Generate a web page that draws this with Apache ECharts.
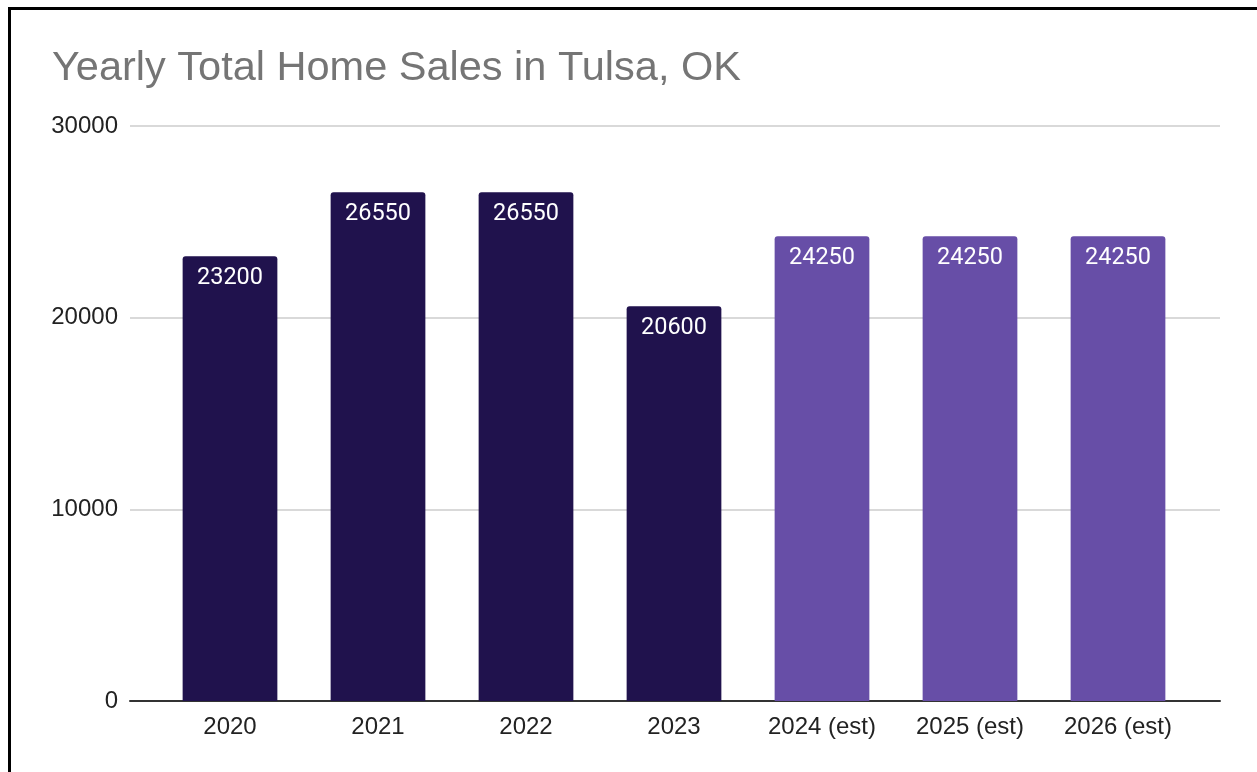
<!DOCTYPE html>
<html>
<head>
<meta charset="utf-8">
<script src="https://cdn.jsdelivr.net/npm/echarts@6/dist/echarts.min.js"></script>
<style>
html,body{margin:0;padding:0;background:#fff;}
#chart{width:1257px;height:772px;}
</style>
</head>
<body>
<div id="chart"></div>
<script>
const categories = ['2020', '2021', '2022', '2023', '2024 (est)', '2025 (est)', '2026 (est)'];
const sales = [23200, 26550, 26550, 20600, 24250, 24250, 24250];
const isEstimate = [false, false, false, false, true, true, true];
const yTicks = [0, 10000, 20000, 30000];

const chart = echarts.init(document.getElementById('chart'), null, {renderer: 'canvas'});
const axisFont = '"Liberation Sans", Arial, sans-serif';
const option = {
  animation: false,
  backgroundColor: '#ffffff',
  title: {
    text: 'Yearly Total Home Sales in Tulsa, OK',
    left: 47, top: 43,
    textStyle: {fontFamily: axisFont, fontSize: 41.5, fontWeight: 'normal', color: '#757575'}
  },
  graphic: [{
    type: 'polyline',
    shape: {points: [[9.5, 800], [9.5, 8.5], [1300, 8.5]]},
    style: {stroke: '#000', lineWidth: 3, fill: null},
    silent: true
  }],
  grid: [
    {left: 130, right: 37, top: 126, bottom: 71},
    {left: 156, right: 65, top: 126, bottom: 71}
  ],
  xAxis: [
    {type: 'category', gridIndex: 0, data: categories,
     axisLine: {show: true, lineStyle: {color: '#333333', width: 2}},
     axisTick: {show: false}, axisLabel: {show: false}, splitLine: {show: false}},
    {type: 'category', gridIndex: 1, data: categories,
     axisLine: {show: false}, axisTick: {show: false},
     axisLabel: {fontFamily: axisFont, fontSize: 24, color: '#222222', margin: 14}}
  ],
  yAxis: [
    {type: 'value', gridIndex: 0, min: yTicks[0], max: yTicks[yTicks.length - 1], interval: 10000,
     axisLine: {show: false}, axisTick: {show: false},
     axisLabel: {fontFamily: axisFont, fontSize: 24, color: '#222222', margin: 12,
                 formatter: v => String(v)},
     splitLine: {lineStyle: {color: '#cccccc', width: 1.5}}},
    {type: 'value', gridIndex: 1, min: yTicks[0], max: yTicks[yTicks.length - 1], interval: 10000,
     show: false, splitLine: {show: false}}
  ],
  series: [{
    type: 'bar',
    xAxisIndex: 1, yAxisIndex: 1,
    barCategoryGap: '36%',
    data: sales.map((v, i) => ({
      value: v,
      itemStyle: {color: isEstimate[i] ? '#674ea7' : '#20124d', borderRadius: [3, 3, 0, 0]}
    })),
    label: {
      show: true, position: 'insideTop', distance: 10,
      fontFamily: 'Roboto, sans-serif', fontSize: 23.5, color: '#ffffff'
    }
  }]
};
chart.setOption(option);
</script>
</body>
</html>
